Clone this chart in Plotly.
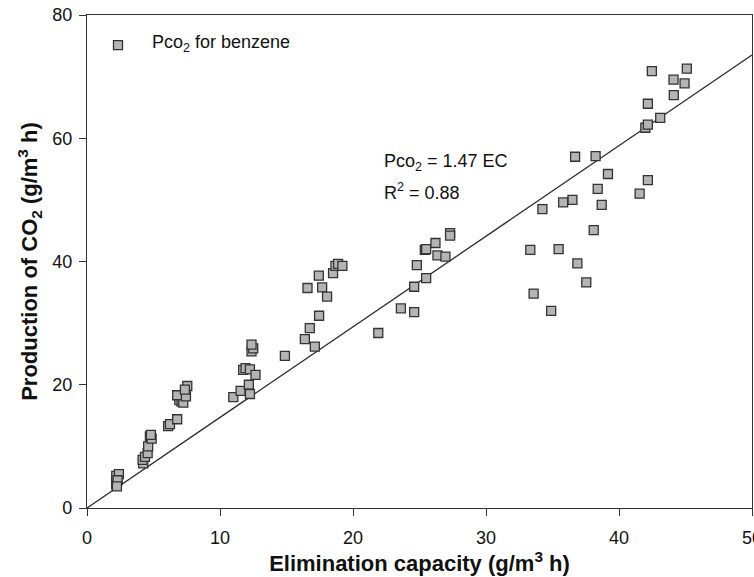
import plotly.graph_objects as go

ec = [2.2, 2.2, 2.3, 2.2, 2.4, 2.3, 2.25,
      4.23, 4.18, 4.36, 4.56, 4.6, 4.73, 4.86, 4.8,
      6.1, 6.24, 6.78, 6.94, 7.11, 7.24, 6.78, 7.44, 7.54, 7.36,
      11.0, 11.55, 11.74, 11.92, 12.25, 12.67, 12.17, 12.25, 12.37, 12.5, 12.37,
      14.88, 17.13, 16.38, 16.75, 17.45, 16.58, 17.68, 18.05, 17.43, 18.5, 18.68, 18.88, 19.2,
      21.9, 23.6, 24.6, 24.6, 25.5, 24.8, 25.4, 25.5, 26.2, 26.35, 26.95, 27.3, 27.3,
      42.47, 45.1, 44.1, 44.93, 44.12, 42.17, 43.1, 41.98, 42.17,
      36.7, 38.24, 39.17, 38.4, 42.17, 41.55, 36.5, 35.8, 38.7, 34.24, 38.1,
      33.33, 35.46, 36.87, 37.54, 33.58, 34.9]
pco2 = [3.8, 4.3, 4.8, 5.2, 5.5, 4.5, 3.5,
        7.25, 7.8, 8.3, 8.9, 10.0, 11.6, 11.25, 11.85,
        13.3, 13.6, 14.4, 17.5, 17.25, 17.1, 18.3, 18.1, 19.8, 19.2,
        18.0, 19.0, 22.4, 22.7, 22.5, 21.6, 20.0, 18.5, 25.4, 25.9, 26.5,
        24.7, 26.2, 27.4, 29.2, 31.2, 35.7, 35.8, 34.3, 37.7, 38.1, 39.3, 39.6, 39.3,
        28.4, 32.4, 31.8, 35.9, 37.3, 39.4, 41.9, 42.0, 43.0, 41.0, 40.8, 44.6, 44.2,
        70.9, 71.3, 69.5, 68.9, 67.0, 65.6, 63.3, 61.7, 62.2,
        57.0, 57.1, 54.2, 51.8, 53.2, 51.0, 50.0, 49.6, 49.2, 48.5, 45.1,
        41.9, 42.0, 39.7, 36.6, 34.8, 32.0]

fit_slope = 1.47
fit_x = [0, 50]
fit_y = [fit_slope * v for v in fit_x]

x_ticks = [0, 10, 20, 30, 40, 50]
y_ticks = [0, 20, 40, 60, 80]

series_name = "Pco<sub>2</sub> for benzene"

FONT = "Liberation Sans, Arial"
MARKER_FILL = "#b4b4b4"
MARKER_EDGE = "#333333"

fig = go.Figure()
fig.add_trace(go.Scatter(
    x=fit_x, y=fit_y, mode="lines",
    line=dict(color="#2a2a2a", width=1.3),
    showlegend=False, hoverinfo="skip"))
fig.add_trace(go.Scatter(
    x=ec, y=pco2, mode="markers",
    name=series_name, showlegend=False,
    marker=dict(symbol="square", size=9, color=MARKER_FILL,
                line=dict(color=MARKER_EDGE, width=1.3))))

# legend key (drawn manually for exact placement)
fig.add_shape(type="rect", xref="paper", yref="paper",
              xsizemode="pixel", ysizemode="pixel",
              xanchor=0.0466, yanchor=0.939,
              x0=-4.5, x1=4.5, y0=-4.5, y1=4.5,
              fillcolor=MARKER_FILL, line=dict(color=MARKER_EDGE, width=1.3))
fig.add_annotation(x=0.0946, y=0.942, xref="paper", yref="paper",
                   text=series_name, showarrow=False,
                   xanchor="left", yanchor="middle",
                   font=dict(family=FONT, size=18, color="#111"))

fig.add_annotation(x=0.443, y=0.70, xref="paper", yref="paper",
                   text="Pco<sub>2</sub> = 1.47 EC", showarrow=False,
                   xanchor="left", yanchor="middle",
                   font=dict(family=FONT, size=18, color="#111"))
fig.add_annotation(x=0.443, y=0.643, xref="paper", yref="paper",
                   text="R<sup>2</sup> = 0.88", showarrow=False,
                   xanchor="left", yanchor="middle",
                   font=dict(family=FONT, size=18, color="#111"))

axis_common = dict(showgrid=False, zeroline=False, showline=True,
                   linecolor="#333333", linewidth=1.3, mirror=True,
                   ticks="outside", ticklen=7, tickcolor="#333333", tickwidth=1.3,
                   ticklabeloverflow="allow", automargin=False,
                   tickfont=dict(family=FONT, size=18, color="#111"))

fig.update_layout(
    width=754, height=577,
    margin=dict(l=87, r=2, t=15, b=69),
    paper_bgcolor="white", plot_bgcolor="white",
    xaxis=dict(range=[0, 50], tickvals=x_ticks, ticklabelstandoff=6,
               title=dict(text="<b>Elimination capacity (g/m<sup>3</sup> h)</b>",
                          font=dict(family=FONT, size=22, color="#111"),
                          standoff=2),
               **axis_common),
    yaxis=dict(range=[0, 80], tickvals=y_ticks, ticklabelstandoff=3,
               title=dict(text="<b>Production of CO<sub>2</sub> (g/m<sup>3</sup> h)</b>",
                          font=dict(family=FONT, size=22, color="#111"),
                          standoff=8),
               **axis_common),
    showlegend=False,
)

fig.write_html("out.html")
